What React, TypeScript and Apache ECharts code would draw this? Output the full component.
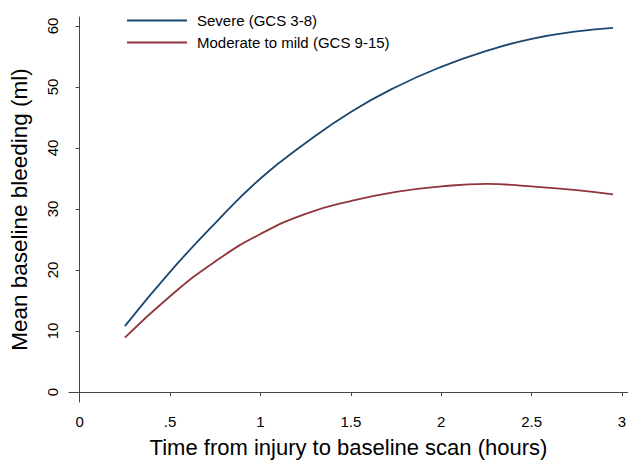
import React, { useEffect, useRef } from "react";
import * as echarts from "echarts";

const timeHours = [0.25, 0.5, 0.75, 1, 1.25, 1.5, 1.75, 2, 2.25, 2.5, 2.75, 2.95];
const severe = [10.8, 19.7, 27.7, 35.0, 40.8, 45.9, 50.0, 53.3, 55.9, 57.9, 59.1, 59.7];
const moderate = [8.9, 15.7, 21.4, 25.9, 29.2, 31.3, 32.8, 33.7, 34.1, 33.7, 33.1, 32.4];
const xTicks = [0, 0.5, 1, 1.5, 2, 2.5, 3];
const yTicks = [0, 10, 20, 30, 40, 50, 60];
const seriesNames = ["Severe (GCS 3-8)", "Moderate to mild (GCS 9-15)"];

const FONT = "Liberation Sans, Arial, sans-serif";

export default function App() {
  const ref = useRef<HTMLDivElement>(null);
  useEffect(() => {
    if (!ref.current) return;
    const chart = echarts.init(ref.current, undefined, { renderer: "svg" });
    chart.setOption({
      animation: false,
      backgroundColor: "#ffffff",
      textStyle: { fontFamily: FONT },
      grid: { left: 69, right: 0, top: 17, bottom: 59, containLabel: false, outerBoundsMode: "none" },
      legend: {
        left: 122,
        top: 8,
        orient: "vertical",
        itemWidth: 60,
        itemHeight: 2,
        itemGap: 7,
        icon: "rect",
        textStyle: { fontSize: 15, color: "#000", fontFamily: FONT, padding: [0, 0, 0, 5] },
        data: seriesNames,
      },
      xAxis: {
        type: "value",
        min: -0.059,
        max: 3.033,
        splitLine: { show: false },
        axisLine: { show: true, lineStyle: { color: "#444", width: 1 } },
        axisTick: { show: true, length: 4, customValues: xTicks, lineStyle: { color: "#444" } },
        axisLabel: {
          customValues: xTicks,
          fontSize: 15,
          color: "#000",
          margin: 12,
          formatter: (v: number) => (v === 0 ? "0" : String(v).replace(/^0\./, ".")),
        },
        name: "Time from injury to baseline scan (hours)",
        nameLocation: "middle",
        nameGap: 34,
        nameTextStyle: { fontSize: 22, color: "#000", fontFamily: FONT },
      },
      yAxis: {
        type: "value",
        min: -1.64,
        max: 61.47,
        splitLine: { show: false },
        axisLine: { show: true, lineStyle: { color: "#444", width: 1 } },
        axisTick: { show: true, length: 4, customValues: yTicks, lineStyle: { color: "#444" } },
        axisLabel: {
          customValues: yTicks,
          fontSize: 15,
          color: "#000",
          rotate: 90,
          margin: 9,
        },
        name: "Mean baseline bleeding (ml)",
        nameLocation: "middle",
        nameGap: 38,
        nameTextStyle: { fontSize: 22.5, color: "#000", fontFamily: FONT },
      },
      series: [
        {
          name: seriesNames[0],
          type: "line",
          smooth: 0.5,
          showSymbol: false,
          color: "#1a476f",
          lineStyle: { width: 1.8, color: "#1a476f" },
          data: timeHours.map((t, i) => [t, severe[i]]),
        },
        {
          name: seriesNames[1],
          type: "line",
          smooth: 0.5,
          showSymbol: false,
          color: "#90353b",
          lineStyle: { width: 1.8, color: "#90353b" },
          data: timeHours.map((t, i) => [t, moderate[i]]),
        },
      ],
    });
    return () => chart.dispose();
  }, []);
  return <div ref={ref} style={{ width: 628, height: 461, position: "absolute", left: 0, top: 0 }} />;
}
